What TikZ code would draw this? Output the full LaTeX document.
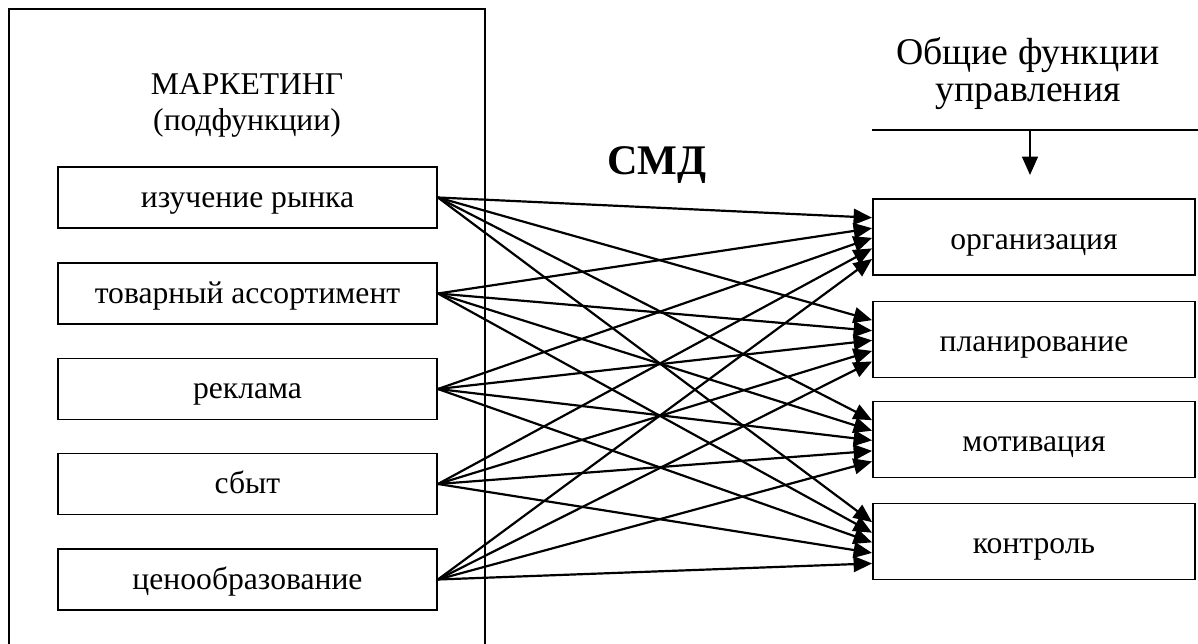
\documentclass[tikz,border=0pt]{standalone}
\usepackage{fontspec}
\setmainfont{Liberation Serif}
\usetikzlibrary{arrows.meta}

\tikzset{
  subfn/.style={draw, line width=1.1pt, minimum width=7.58cm, minimum height=1.22cm,
    text height=14pt, text depth=3pt, font=\fontsize{18}{21}\selectfont},
  mgmtfn/.style={draw, line width=1.1pt, minimum width=6.44cm, minimum height=1.52cm,
    text height=15pt, text depth=1pt, font=\fontsize{18}{21}\selectfont},
  link/.style={line width=1.25pt, -{Triangle[length=10.5pt,width=9pt]}}
}

\begin{document}
\begin{tikzpicture}[x=0.02cm, y=-0.02cm]
\useasboundingbox (0,0) rectangle (1198,644);
% outer frame, its bottom runs off the page
\draw[line width=1.1pt] (9,670) -- (9,9) -- (485,9) -- (485,670);
\node[align=center, font=\fontsize{18}{20.5}\selectfont] (mkt) at (247,105) {МАРКЕТИНГ\\(подфункции)};
% subfunctions
\node[subfn] (s1) at (247.5,197.5) {изучение рынка};
\node[subfn] (s2) at (247.5,293.5) {товарный ассортимент};
\node[subfn] (s3) at (247.5,389) {реклама};
\node[subfn] (s4) at (247.5,484) {сбыт};
\node[subfn] (s5) at (247.5,579.5) {ценообразование};
\node[font=\fontsize{24}{28}\bfseries] (smd) at (657,165) {СМД};
% general management functions
\node[align=center, font=\fontsize{21.5}{21}\selectfont] (gen) at (1028,74) {Общие функции\\управления};
\coordinate (barL) at (872,130);
\coordinate (barR) at (1198,130);
\coordinate (down) at (1030,130);
\coordinate (downend) at (1030,175);
\draw[line width=1.1pt] (barL) -- (barR);
\draw[link] (down) -- (downend);
\node[mgmtfn] (org) at (1034,237) {организация};
\node[mgmtfn] (plan) at (1034,339.5) {планирование};
\node[mgmtfn] (mot) at (1034,439.5) {мотивация};
\node[mgmtfn] (ctl) at (1034,541.5) {контроль};
% every subfunction feeds every function
\foreach \s/\dy in {s1/11, s2/5, s3/-0.5, s4/-6.5, s5/-12.5}
  \foreach \t in {org,plan,mot,ctl}
    \draw[link] (\s.east) -- ([yshift=\dy pt]\t.west);
\end{tikzpicture}
\end{document}
